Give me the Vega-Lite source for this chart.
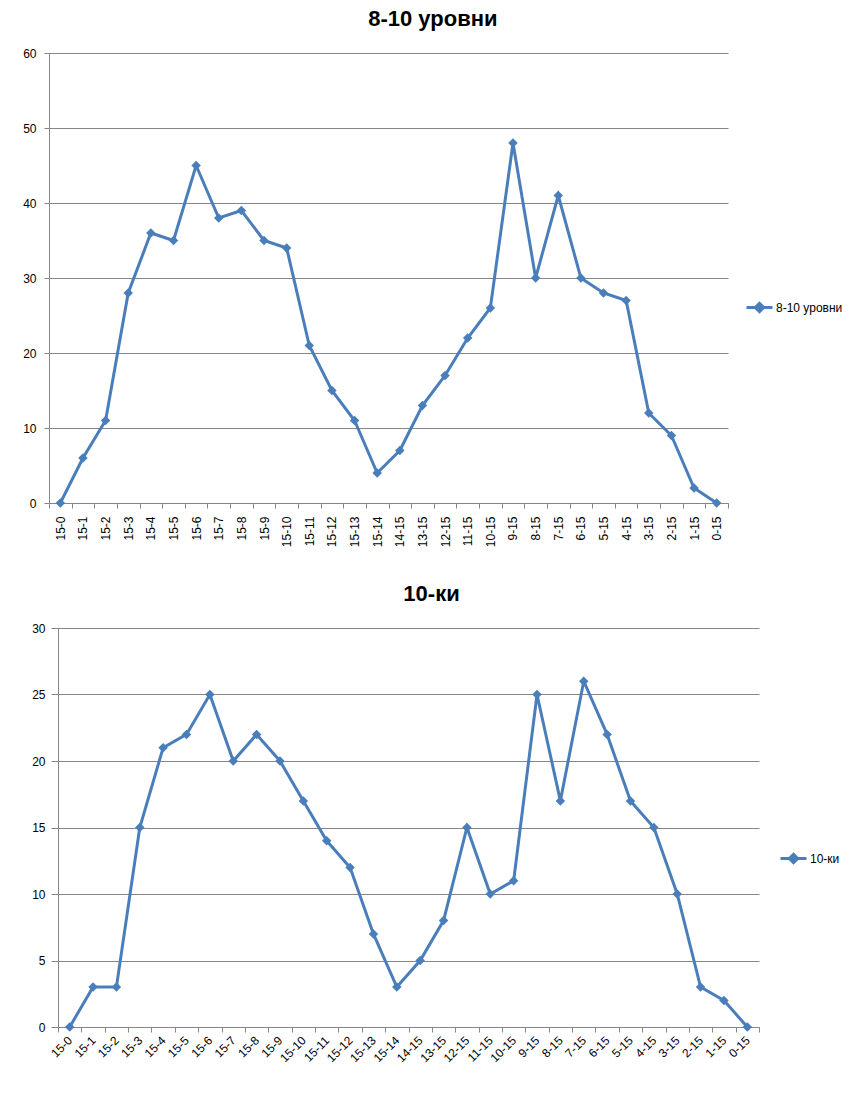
{
  "$schema": "https://vega.github.io/schema/vega-lite/v6.json",
  "background": "white",
  "padding": {"left": 22, "top": 8, "right": 5, "bottom": 5},
  "datasets": {
    "top": [
      {"pair": "15-0", "count": 0}, {"pair": "15-1", "count": 6}, {"pair": "15-2", "count": 11},
      {"pair": "15-3", "count": 28}, {"pair": "15-4", "count": 36}, {"pair": "15-5", "count": 35},
      {"pair": "15-6", "count": 45}, {"pair": "15-7", "count": 38}, {"pair": "15-8", "count": 39},
      {"pair": "15-9", "count": 35}, {"pair": "15-10", "count": 34}, {"pair": "15-11", "count": 21},
      {"pair": "15-12", "count": 15}, {"pair": "15-13", "count": 11}, {"pair": "15-14", "count": 4},
      {"pair": "14-15", "count": 7}, {"pair": "13-15", "count": 13}, {"pair": "12-15", "count": 17},
      {"pair": "11-15", "count": 22}, {"pair": "10-15", "count": 26}, {"pair": "9-15", "count": 48},
      {"pair": "8-15", "count": 30}, {"pair": "7-15", "count": 41}, {"pair": "6-15", "count": 30},
      {"pair": "5-15", "count": 28}, {"pair": "4-15", "count": 27}, {"pair": "3-15", "count": 12},
      {"pair": "2-15", "count": 9}, {"pair": "1-15", "count": 2}, {"pair": "0-15", "count": 0}
    ],
    "bottom": [
      {"pair": "15-0", "count": 0}, {"pair": "15-1", "count": 3}, {"pair": "15-2", "count": 3},
      {"pair": "15-3", "count": 15}, {"pair": "15-4", "count": 21}, {"pair": "15-5", "count": 22},
      {"pair": "15-6", "count": 25}, {"pair": "15-7", "count": 20}, {"pair": "15-8", "count": 22},
      {"pair": "15-9", "count": 20}, {"pair": "15-10", "count": 17}, {"pair": "15-11", "count": 14},
      {"pair": "15-12", "count": 12}, {"pair": "15-13", "count": 7}, {"pair": "15-14", "count": 3},
      {"pair": "14-15", "count": 5}, {"pair": "13-15", "count": 8}, {"pair": "12-15", "count": 15},
      {"pair": "11-15", "count": 10}, {"pair": "10-15", "count": 11}, {"pair": "9-15", "count": 25},
      {"pair": "8-15", "count": 17}, {"pair": "7-15", "count": 26}, {"pair": "6-15", "count": 22},
      {"pair": "5-15", "count": 17}, {"pair": "4-15", "count": 15}, {"pair": "3-15", "count": 10},
      {"pair": "2-15", "count": 3}, {"pair": "1-15", "count": 2}, {"pair": "0-15", "count": 0}
    ]
  },
  "spacing": 36,
  "vconcat": [
    {
      "title": "8-10 уровни",
      "data": {"name": "top"},
      "width": 670,
      "height": 450,
      "encoding": {
        "x": {"field": "pair", "type": "nominal", "sort": null, "bandPosition": 0.5,
              "scale": {"type": "band", "paddingInner": 0, "paddingOuter": 0, "range": [-9, 670]},
              "axis": {"labelAngle": -90, "labelAlign": "right", "labelBaseline": "middle", "labelPadding": 8}},
        "y": {"field": "count", "type": "quantitative",
              "scale": {"domain": [0, 60]},
              "axis": {"values": [0, 10, 20, 30, 40, 50, 60], "offset": 9}},
        "color": {"datum": "8-10 уровни", "type": "nominal",
                  "scale": {"range": ["#4a7ebb"]},
                  "legend": {"orient": "none", "legendX": 687, "legendY": 240}}
      },
      "layer": [
        {"mark": {"type": "line", "strokeWidth": 3}},
        {"mark": {"type": "point", "shape": "diamond", "filled": true, "size": 90, "opacity": 1}}
      ]
    },
    {
      "title": "10-ки",
      "data": {"name": "bottom"},
      "width": 701,
      "height": 399,
      "encoding": {
        "x": {"field": "pair", "type": "nominal", "sort": null, "bandPosition": 0.5,
              "scale": {"type": "band", "paddingInner": 0, "paddingOuter": 0},
              "axis": {"labelAngle": -45, "labelAlign": "right", "labelBaseline": "middle", "labelPadding": 6}},
        "y": {"field": "count", "type": "quantitative",
              "scale": {"domain": [0, 30]},
              "axis": {"values": [0, 5, 10, 15, 20, 25, 30], "minExtent": 35, "tickSize": 7, "labelPadding": 6}},
        "color": {"datum": "10-ки", "type": "nominal",
                  "scale": {"range": ["#4a7ebb"]},
                  "legend": {"orient": "none", "legendX": 721, "legendY": 216}}
      },
      "layer": [
        {"mark": {"type": "line", "strokeWidth": 3}},
        {"mark": {"type": "point", "shape": "diamond", "filled": true, "size": 90, "opacity": 1}}
      ]
    }
  ],
  "resolve": {"scale": {"color": "independent"}, "legend": {"color": "independent"}},
  "config": {
    "font": "Liberation Sans",
    "view": {"stroke": null},
    "title": {"fontSize": 22, "fontWeight": "bold", "font": "Liberation Sans", "color": "black",
              "anchor": "middle", "frame": "bounds", "offset": 16},
    "axis": {"title": null, "domainColor": "#868686", "tickColor": "#868686", "gridColor": "#868686",
             "labelColor": "black", "labelFont": "Liberation Sans", "labelFontSize": 12,
             "tickSize": 5, "labelPadding": 8},
    "axisX": {"grid": false, "tickBand": "extent"},
    "axisY": {"grid": true, "domain": true},
    "legend": {"title": null, "symbolType": "M-1,0H1M0,-0.32L0.32,0L0,0.32L-0.32,0Z",
               "symbolSize": 676, "symbolStrokeWidth": 3, "symbolFillColor": "#4a7ebb",
               "labelFontSize": 12, "labelColor": "black", "labelOffset": 2}
  }
}
